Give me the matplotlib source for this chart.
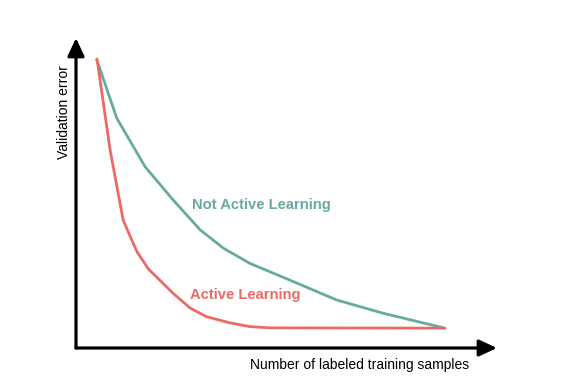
import matplotlib.pyplot as plt

# 데이터 (눈으로 읽은 값)
samples_not_active = [4.9, 9.7, 16.4, 23.1, 29.5, 35.0, 41.3, 50.8, 61.9, 73.0, 87.6]
error_not_active = [93.1, 74.1, 58.5, 47.7, 38.1, 32.2, 27.3, 21.9, 15.5, 11.2, 6.4]

samples_active = [5.0, 8.1, 11.2, 12.4, 14.5, 17.2, 23.1, 27.1, 31.0, 36.6, 41.3, 46.1, 87.6]
error_active = [93.2, 63.9, 41.3, 37.5, 31.0, 25.5, 17.6, 12.9, 10.1, 8.1, 6.9, 6.5, 6.4]

green = '#67AB9F'
red = '#EA6B66'

plt.rcParams['font.family'] = ['Liberation Sans', 'DejaVu Sans']

W, H = 577, 387
fig = plt.figure(figsize=(W / 100, H / 100), dpi=100)
ax = fig.add_axes([76 / W, (H - 348) / H, (497 - 76) / W, (348 - 38) / H])
ax.set_xlim(0, 100)
ax.set_ylim(0, 100)
ax.axis('off')

ax.plot(samples_not_active, error_not_active, color=green, lw=2.0,
        solid_capstyle='round', solid_joinstyle='round')
ax.plot(samples_active, error_active, color=red, lw=2.0,
        solid_capstyle='round', solid_joinstyle='round')

# 축 화살표
arrow = dict(arrowstyle='-|>,head_length=0.6,head_width=0.28', lw=2.3, color='black',
             mutation_scale=18, shrinkA=0, shrinkB=0)
ax.annotate('', xy=(0, 1), xytext=(0, 0), xycoords='axes fraction', arrowprops=arrow)
ax.annotate('', xy=(1, 0), xytext=(0, 0), xycoords='axes fraction', arrowprops=arrow)

fig.text(261 / W, 1 - 205 / H, 'Not Active Learning', color=green, fontsize=10.6,
         fontweight='bold', ha='center', va='center')
fig.text(245 / W, 1 - 295 / H, 'Active Learning', color=red, fontsize=10.6,
         fontweight='bold', ha='center', va='center')
fig.text(360 / W, 1 - 365 / H, 'Number of labeled training samples', fontsize=10,
         ha='center', va='center')
fig.text(64 / W, 1 - 112 / H, 'Validation error', fontsize=10, rotation=90,
         ha='center', va='center')

fig.savefig('out.png', dpi=100)
